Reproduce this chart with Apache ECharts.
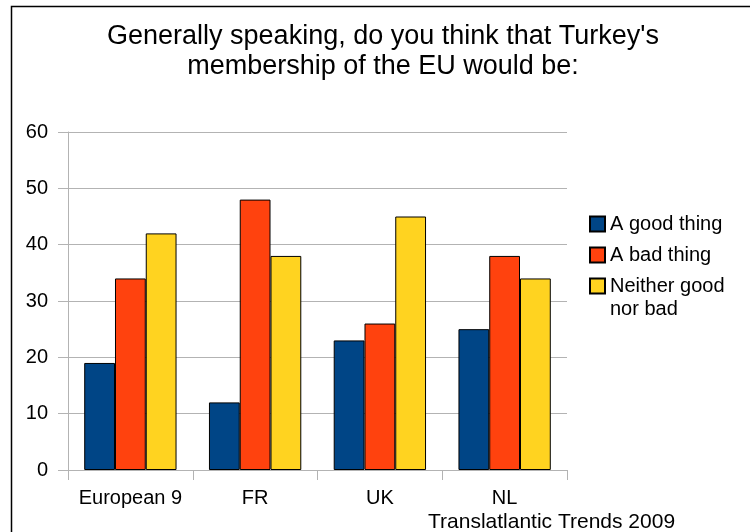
<!DOCTYPE html>
<html>
<head>
<meta charset="utf-8">
<script src="https://cdn.jsdelivr.net/npm/echarts@6/dist/echarts.min.js"></script>
<style>
  html, body { margin: 0; padding: 0; background: #fff; }
  #chart { width: 750px; height: 532px; }
</style>
</head>
<body>
<div id="chart"></div>
<script>
// Survey: opinion on Turkey's EU membership, by country group
const categories = ['European 9', 'FR', 'UK', 'NL'];
const goodThing = [19, 12, 23, 25];
const badThing = [34, 48, 26, 38];
const neither = [42, 38, 45, 34];
const yTicks = { min: 0, max: 60, interval: 10 };

const FONT = '"Liberation Sans", Arial, sans-serif';
const colors = ['#004586', '#ff420e', '#ffd320'];

const chart = echarts.init(document.getElementById('chart'), null, { renderer: 'canvas' });

const barStyle = c => ({ color: c, borderColor: '#000', borderWidth: 1 });

chart.setOption({
  animation: false,
  backgroundColor: '#fff',
  textStyle: { fontFamily: FONT },
  title: [
    {
      text: "Generally speaking, do you think that Turkey's\nmembership of the EU would be:",
      left: 383, top: 22, textAlign: 'center', padding: 0,
      textStyle: { fontFamily: FONT, fontSize: 27, fontWeight: 'normal', color: '#000', lineHeight: 30 }
    },
    {
      text: 'Translatlantic Trends 2009',
      left: 428, top: 512, padding: 0,
      textStyle: { fontFamily: FONT, fontSize: 21, fontWeight: 'normal', color: '#000' }
    }
  ],
  legend: [
    {
      data: ['A good thing', 'A bad thing'],
      orient: 'vertical', left: 589, top: 212.5, padding: 0,
      itemWidth: 15, itemHeight: 15, itemGap: 8,
      icon: 'rect',
      textStyle: { fontFamily: FONT, fontSize: 20, color: '#000', lineHeight: 23 }
    },
    {
      // leading blank line keeps the first text line level with the swatch
      data: ['Neither good nor bad'],
      orient: 'vertical', left: 589, top: 251.5, padding: 0,
      itemWidth: 15, itemHeight: 15,
      icon: 'rect',
      formatter: () => '\nNeither good\nnor bad',
      textStyle: { fontFamily: FONT, fontSize: 20, color: '#000', lineHeight: 23 }
    }
  ],
  grid: { left: 68, right: 183, top: 132, bottom: 62, containLabel: false },
  xAxis: {
    type: 'category',
    data: categories,
    axisLine: { lineStyle: { color: '#b3b3b3', width: 1 } },
    axisTick: { show: true, interval: 0, length: 10, alignWithLabel: false, lineStyle: { color: '#b3b3b3' } },
    axisLabel: { interval: 0, color: '#000', fontSize: 20, margin: 18, fontFamily: FONT }
  },
  yAxis: {
    type: 'value',
    min: yTicks.min, max: yTicks.max, interval: yTicks.interval,
    axisLine: { show: true, lineStyle: { color: '#b3b3b3', width: 1 } },
    axisTick: { show: true, length: 10, lineStyle: { color: '#b3b3b3' } },
    axisLabel: { color: '#000', fontSize: 20, margin: 20, fontFamily: FONT },
    splitLine: { show: true, lineStyle: { color: '#b3b3b3', width: 1 } }
  },
  series: [
    { name: 'A good thing', type: 'bar', data: goodThing, barGap: '0%', barCategoryGap: '26%', itemStyle: barStyle(colors[0]) },
    { name: 'A bad thing', type: 'bar', data: badThing, itemStyle: barStyle(colors[1]) },
    { name: 'Neither good nor bad', type: 'bar', data: neither, itemStyle: barStyle(colors[2]) }
  ],
  graphic: [
    {
      type: 'rect', silent: true, z: 100,
      shape: { x: 11.5, y: 6.5, width: 800, height: 600 },
      style: { fill: 'none', stroke: '#000', lineWidth: 1.5 }
    }
  ]
});
</script>
</body>
</html>
